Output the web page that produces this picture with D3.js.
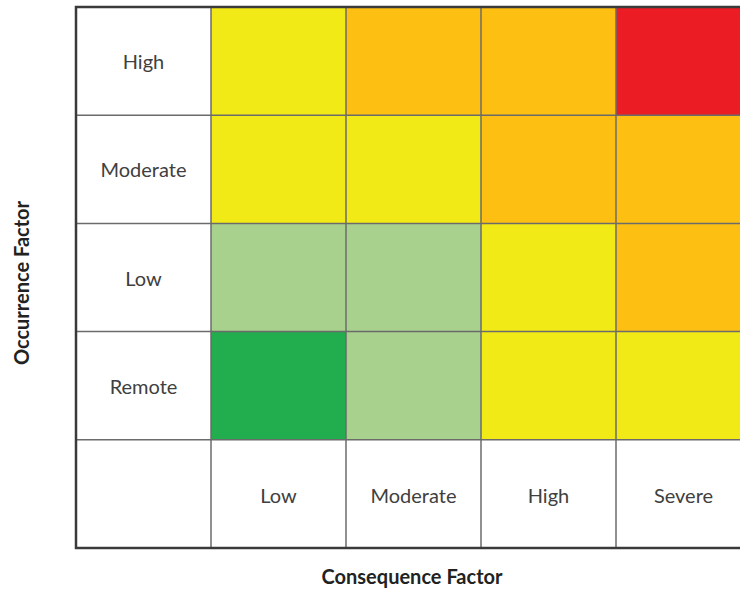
<!DOCTYPE html>
<html>
<head>
<meta charset="utf-8">
<script src="https://cdn.jsdelivr.net/npm/d3@7"></script>
<style>
	html, body { margin: 0; padding: 0; background: #fff; overflow: hidden; }
	svg { display: block; }
</style>
</head>
<body>
<div id="chart"></div>
<script>
// data
const consequence = ['Low', 'Moderate', 'High', 'Severe'];
const occurrence = ['High', 'Moderate', 'Low', 'Remote'];
// risk level per row (occurrence) and column (consequence)
const riskLevels = [
	['medium', 'high', 'high', 'extreme'],
	['medium', 'medium', 'high', 'high'],
	['lowish', 'lowish', 'medium', 'high'],
	['low', 'lowish', 'medium', 'medium']
];
const levelNames = ['low', 'lowish', 'medium', 'high', 'extreme'];
const levelColors = ['#22ad4e', '#a9d18e', '#f2ea17', '#fdbf12', '#ec1c24'];

renderMatrix();

function renderMatrix() {
	let width = 740, height = 589;
	let svg = d3.select('#chart').append('svg')
		.attr('width', width)
		.attr('height', height);

	let color = d3.scaleOrdinal().domain(levelNames).range(levelColors);

	//first column and last row hold the labels
	let x = d3.scaleBand()
		.domain(['_label'].concat(consequence))
		.range([76, 76 + 135 * 5]);
	let y = d3.scaleBand()
		.domain(occurrence.concat(['_label']))
		.range([7, 548]);

	let cells = [];
	occurrence.forEach(function(o, i) {
		consequence.forEach(function(c, j) {
			cells.push({row: o, col: c, level: riskLevels[i][j]});
		});
	});

	let g = svg.append('g');
	g.selectAll('rect.cell')
		.data(cells)
		.enter().append('rect')
		.attr('class', 'cell')
		.attr('x', d => x(d.col))
		.attr('y', d => y(d.row))
		.attr('width', x.bandwidth())
		.attr('height', y.bandwidth())
		.attr('fill', d => color(d.level));

	//inner grid lines
	let lineColor = '#6b6b6b';
	x.domain().slice(1).forEach(function(c) {
		g.append('line')
			.attr('x1', x(c)).attr('x2', x(c))
			.attr('y1', y.range()[0]).attr('y2', y.range()[1])
			.attr('stroke', lineColor)
			.attr('stroke-width', 1.5);
	});
	y.domain().slice(1).forEach(function(r) {
		g.append('line')
			.attr('x1', x.range()[0]).attr('x2', x.range()[1])
			.attr('y1', y(r)).attr('y2', y(r))
			.attr('stroke', lineColor)
			.attr('stroke-width', 1.5);
	});

	//outer border
	g.append('rect')
		.attr('x', x.range()[0])
		.attr('y', y.range()[0])
		.attr('width', x.range()[1] - x.range()[0])
		.attr('height', y.range()[1] - y.range()[0])
		.attr('fill', 'none')
		.attr('stroke', '#3a3a3a')
		.attr('stroke-width', 2.5);

	let font = 'Lato, "Open Sans", sans-serif';
	//row labels
	g.selectAll('text.rowLabel')
		.data(occurrence)
		.enter().append('text')
		.attr('class', 'rowLabel')
		.attr('x', x('_label') + x.bandwidth() / 2)
		.attr('y', d => y(d) + y.bandwidth() / 2 + 1)
		.attr('dy', '0.35em')
		.attr('text-anchor', 'middle')
		.style('font-family', font)
		.style('font-size', '20px')
		.attr('fill', '#404040')
		.text(d => d);

	//column labels
	g.selectAll('text.colLabel')
		.data(consequence)
		.enter().append('text')
		.attr('class', 'colLabel')
		.attr('x', d => x(d) + x.bandwidth() / 2)
		.attr('y', y('_label') + y.bandwidth() / 2 + 2)
		.attr('dy', '0.35em')
		.attr('text-anchor', 'middle')
		.style('font-family', font)
		.style('font-size', '20px')
		.attr('fill', '#404040')
		.text(d => d);

	//axis titles
	svg.append('text')
		.attr('x', 412)
		.attr('y', 577)
		.attr('dy', '0.35em')
		.attr('text-anchor', 'middle')
		.style('font-family', font)
		.style('font-size', '20px')
		.style('font-weight', 'bold')
		.attr('fill', '#222')
		.text('Consequence Factor');

	svg.append('text')
		.attr('transform', 'translate(22,283) rotate(-90)')
		.attr('dy', '0.35em')
		.attr('text-anchor', 'middle')
		.style('font-family', font)
		.style('font-size', '20px')
		.style('font-weight', 'bold')
		.attr('fill', '#222')
		.text('Occurrence Factor');
}
</script>
</body>
</html>
